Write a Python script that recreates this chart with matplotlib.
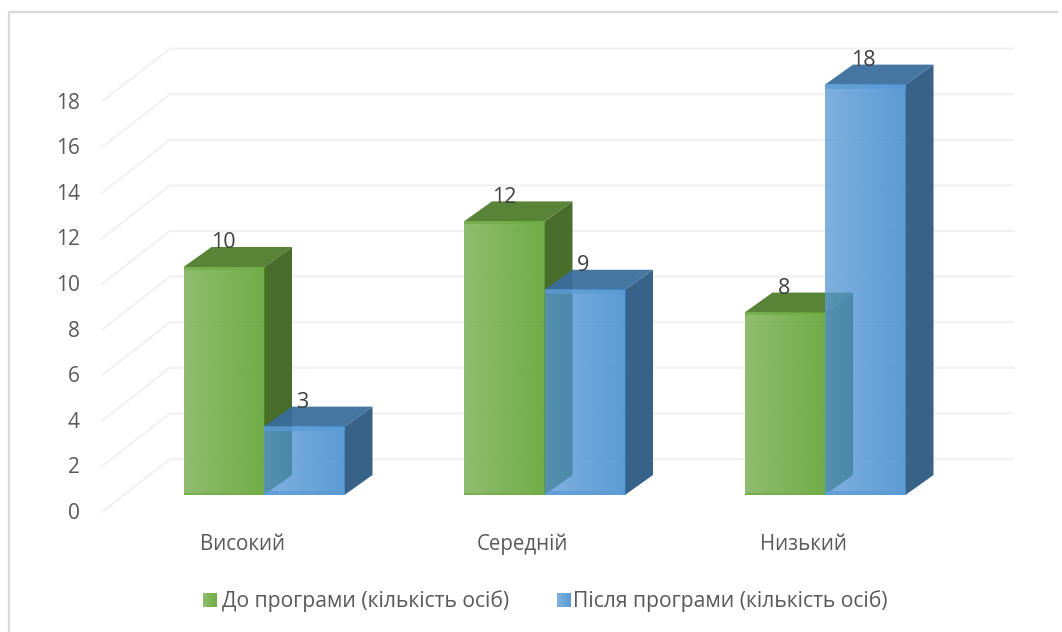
import matplotlib
matplotlib.use('Agg')
import matplotlib.pyplot as plt
import numpy as np
from matplotlib.patches import Polygon

categories = ['Високий', 'Середній', 'Низький']
before = [10, 12, 8]
after = [3, 9, 18]
series_names = ['До програми (кількість осіб)', 'Після програми (кількість осіб)']
y_ticks = [0, 2, 4, 6, 8, 10, 12, 14, 16, 18]

W, H = 1062, 632
plt.rcParams['font.family'] = ['Open Sans', 'DejaVu Sans']
TEXT = '#595959'
GRID = '#f1f1f1'

# one axes over the whole figure: x in category units, y in value units
group_px = 280.5
unit_px = 22.8
x0_px = 264.0
y0_px = 495.0

fig = plt.figure(figsize=(W / 100, H / 100), dpi=100)
ax = fig.add_axes([0, 0, 1, 1])
ax.axis('off')


def px_x(p):
    return (p - x0_px) / group_px


def px_y(p):
    return (y0_px - p) / unit_px


bar_w = 80.5 / group_px
dep_x = 28 / group_px
dep_y = 20 / unit_px
FRONT_ALPHA = 0.78


def gradient(c1, c2):
    a = np.array(matplotlib.colors.to_rgb(c1))
    b = np.array(matplotlib.colors.to_rgb(c2))
    t = np.linspace(0, 1, 64)[None, :, None]
    return a + (b - a) * t


def draw_bar(x, v, style, z):
    ax.add_patch(Polygon([(x + bar_w, 0), (x + bar_w + dep_x, dep_y),
                          (x + bar_w + dep_x, v + dep_y), (x + bar_w, v)],
                         fc=style['side'], ec='none', zorder=z))
    ax.add_patch(Polygon([(x, v), (x + bar_w, v), (x + bar_w + dep_x, v + dep_y), (x + dep_x, v + dep_y)],
                         fc=style['top'], ec='none', alpha=0.94, zorder=z + 0.1))
    ax.imshow(gradient(*style['front']), extent=[x, x + bar_w, 0, v], aspect='auto',
              alpha=FRONT_ALPHA, zorder=z + 0.2, interpolation='bilinear')
    # thin base colour strips along the bottom and top edges of the front face
    h = style['strip'] / unit_px
    ax.fill_between([x, x + bar_w], 0, h, color=style['edge'], lw=0, alpha=0.75, zorder=z + 0.3)
    ax.fill_between([x, x + bar_w], v - h, v, color=style['edge'], lw=0, alpha=0.75, zorder=z + 0.3)


green = {'front': ('#70a946', '#489613'), 'side': '#496e2c', 'top': '#4f7c2a', 'edge': '#70ad47', 'strip': 2.5}
blue = {'front': ('#5b9ad5', '#2d7fc9'), 'side': '#386288', 'top': '#3a6d9c', 'edge': '#5b9bd5', 'strip': 4}

# outer frame of the chart, only the left and top edges
ax.plot([px_x(9), px_x(9), px_x(1057)], [px_y(632), px_y(12), px_y(12)], color='#d9d9d9', lw=1.6, zorder=1)

# back wall and side wall grid lines
side_x = px_x(102)
back_x = px_x(170)
end_x = px_x(1013)
floor_front = px_y(512)
floor_back = px_y(459)
for t in y_ticks:
    ax.plot([side_x, back_x, end_x], [floor_front + t, floor_back + t, floor_back + t],
            color=GRID, lw=1.5, zorder=2, solid_joinstyle='miter')
    ax.text(px_x(80), floor_front + t - 1.5 / unit_px, str(t), ha='right', va='center', fontsize=15, color=TEXT)

for i, cat in enumerate(categories):
    draw_bar(i - bar_w, before[i], green, 3)
    draw_bar(i, after[i], blue, 4)
    ax.text(i - bar_w + 40 / group_px, before[i] + 24 / unit_px, str(before[i]), ha='center', va='center',
            fontsize=15.5, color='#404040', zorder=6)
    ax.text(i + 40 / group_px - 0.005, after[i] + 24.5 / unit_px, str(after[i]), ha='center', va='center',
            fontsize=15.5, color='#404040', zorder=6)
    ax.text(i + px_x(243) - 1 / group_px, px_y(544), cat, ha='center', va='center', fontsize=14.8, color=TEXT)

# legend
sw = 14 / group_px
sh = 14 / unit_px
for sx, tx, name, style in [(203, 222, series_names[0], green), (557, 573, series_names[1], blue)]:
    ax.imshow(gradient(*style['front']), extent=[px_x(sx), px_x(sx) + sw, px_y(607), px_y(607) + sh],
              aspect='auto', alpha=FRONT_ALPHA, zorder=3)
    ax.text(px_x(tx), px_y(601), name, ha='left', va='center', fontsize=15.2, color=TEXT)

ax.set_xlim(px_x(0), px_x(W))
ax.set_ylim(px_y(H), px_y(0))
fig.savefig('out.png', dpi=100)
